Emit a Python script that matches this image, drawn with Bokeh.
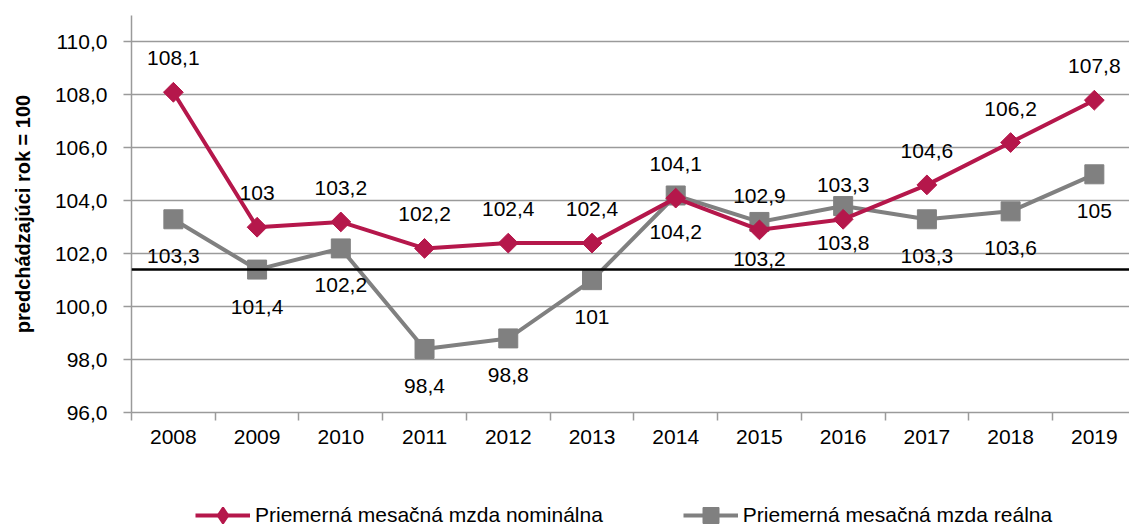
from bokeh.plotting import figure
from bokeh.layouts import column
from bokeh.models import FixedTicker, Span, Legend, LegendItem, ColumnDataSource, Range1d
from bokeh.core.properties import value
from bokeh.embed import file_html
from bokeh.resources import INLINE
import math

years = ["2008", "2009", "2010", "2011", "2012", "2013", "2014", "2015", "2016", "2017", "2018", "2019"]
nominal = [108.1, 103, 103.2, 102.2, 102.4, 102.4, 104.1, 102.9, 103.3, 104.6, 106.2, 107.8]
real = [103.3, 101.4, 102.2, 98.4, 98.8, 101, 104.2, 103.2, 103.8, 103.3, 103.6, 105]
reference_level = 101.4
y_ticks = [96, 98, 100, 102, 104, 106, 108, 110]
y_title = "predchádzajúci rok = 100"
name_nominal = "Priemerná mesačná mzda nominálna"
name_real = "Priemerná mesačná mzda reálna"

FONT = "Liberation Sans"
RED = "#B5174B"
GRAY = "#808080"
AXIS_GRAY = "#9A9A9A"
FS = "21px"


def fmt(v):
    return f"{v:g}".replace(".", ",")


xs = list(range(len(years)))
src = ColumnDataSource(dict(
    x=xs, nom=nominal, real=real,
    nom_lbl=[fmt(v) for v in nominal],
    real_lbl=[fmt(v) for v in real],
))

p = figure(width=1129, height=470, output_backend="svg", toolbar_location=None,
           x_range=Range1d(-0.5, 11.42), y_range=Range1d(96, 111),
           min_border_left=131, min_border_right=0, min_border_top=15, min_border_bottom=58)
p.outline_line_color = None
p.background_fill_color = "white"
p.border_fill_color = "white"

# grid
p.xgrid.grid_line_color = None
p.ygrid.grid_line_color = AXIS_GRAY
p.ygrid.grid_line_width = 1.5

# y axis
p.yaxis.ticker = FixedTicker(ticks=y_ticks)
p.yaxis.major_label_overrides = {t: f"{t:.1f}".replace(".", ",") for t in y_ticks}
p.yaxis.major_label_text_font = FONT
p.yaxis.major_label_text_font_size = FS
p.yaxis.major_label_text_color = "black"
p.yaxis.axis_line_color = AXIS_GRAY
p.yaxis.axis_line_width = 1.5
p.yaxis.major_tick_line_color = AXIS_GRAY
p.yaxis.major_tick_line_width = 1.5
p.yaxis.major_tick_in = 0
p.yaxis.major_tick_out = 8
p.yaxis.minor_tick_line_color = None
p.yaxis.major_label_standoff = 16
p.yaxis.axis_label = y_title
p.yaxis.axis_label_text_font = FONT
p.yaxis.axis_label_text_font_style = "bold"
p.yaxis.axis_label_text_font_size = "20px"
p.yaxis.axis_label_text_color = "black"
p.yaxis.axis_label_standoff = 18

# x axis
p.xaxis.ticker = FixedTicker(ticks=xs, minor_ticks=[i - 0.5 for i in range(len(years))])
p.xaxis.major_label_overrides = {i: y for i, y in enumerate(years)}
p.xaxis.major_label_text_font = FONT
p.xaxis.major_label_text_font_size = FS
p.xaxis.major_label_text_color = "black"
p.xaxis.axis_line_color = AXIS_GRAY
p.xaxis.axis_line_width = 1.5
p.xaxis.major_tick_line_color = None
p.xaxis.major_tick_in = 0
p.xaxis.major_tick_out = 8
p.xaxis.minor_tick_line_color = AXIS_GRAY
p.xaxis.minor_tick_line_width = 1.5
p.xaxis.minor_tick_in = 0
p.xaxis.minor_tick_out = 8
p.xaxis.major_label_standoff = 9

# series
l_real = p.line("x", "real", source=src, line_color=GRAY, line_width=4)
s_real = p.scatter("x", "real", source=src, marker="square", size=19,
                   fill_color=GRAY, line_color=GRAY)
l_nom = p.line("x", "nom", source=src, line_color=RED, line_width=4)
s_nom = p.scatter("x", "nom", source=src, marker="square", size=14, angle=math.pi / 4,
                  fill_color=RED, line_color=RED)

span = Span(location=reference_level, dimension="width", line_color="black", line_width=2.5)
p.add_layout(span)

# data labels
p.text("x", "nom", text="nom_lbl", source=src, text_font=value(FONT), text_font_size=FS,
       text_color="black", text_align="center", text_baseline="bottom", y_offset=-27)
p.text("x", "real", text="real_lbl", source=src, text_font=value(FONT), text_font_size=FS,
       text_color="black", text_align="center", text_baseline="top", y_offset=30)

# legend strip (separate figure below the chart; its frame is aligned with the chart frame)
lg = figure(width=1129, height=58, output_backend="svg", toolbar_location=None,
            x_range=Range1d(0, 1), y_range=Range1d(0, 1), x_axis_type=None, y_axis_type=None,
            min_border=0)
lg.outline_line_color = None
lg.grid.grid_line_color = None
# the series are drawn here out of view only so that the legend can show their symbols
ll_nom = lg.line("x", "nom", source=src, line_color=RED, line_width=4)
ls_nom = lg.scatter("x", "nom", source=src, marker="diamond", size=12,
                    fill_color=RED, line_color=RED, line_width=2)
ll_real = lg.line("x", "real", source=src, line_color=GRAY, line_width=4)
ls_real = lg.scatter("x", "real", source=src, marker="square", size=15,
                     fill_color=GRAY, line_color=GRAY)

legend = Legend(items=[LegendItem(label=name_nominal, renderers=[ll_nom, ls_nom]),
                       LegendItem(label=name_real, renderers=[ll_real, ls_real])],
                location=(64, -7), orientation="horizontal",
                label_text_font=FONT, label_text_font_size=FS, label_text_color="black",
                glyph_width=55, glyph_height=40, label_standoff=5, spacing=80,
                padding=0, margin=0, border_line_color=None, background_fill_alpha=0)
lg.add_layout(legend, "center")

layout = column(p, lg, spacing=0)
open("out.html", "w").write(file_html(layout, INLINE))
